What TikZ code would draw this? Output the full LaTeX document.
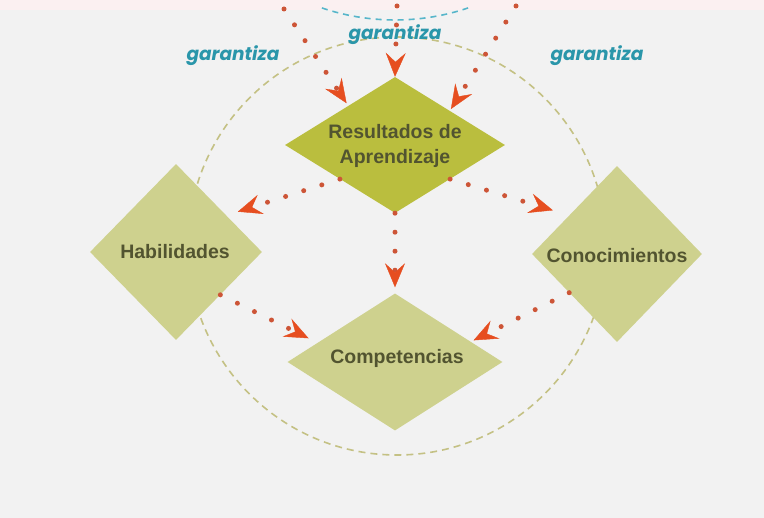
\documentclass[tikz,border=0pt]{standalone}
\usepackage{fontspec}
\setmainfont{Liberation Sans}
\newfontfamily\garfont{Poppins}
\usetikzlibrary{shapes.geometric,arrows.meta}
\definecolor{bgc}{RGB}{242,242,242}
\definecolor{topband}{RGB}{251,240,241}
\definecolor{resfill}{RGB}{186,190,62}
\definecolor{lightfill}{RGB}{206,209,142}
\definecolor{txtc}{RGB}{82,84,48}
\definecolor{garc}{RGB}{42,150,170}
\definecolor{arrc}{RGB}{230,78,32}
\definecolor{dotc}{RGB}{205,85,55}
\definecolor{circc}{RGB}{196,193,132}
\definecolor{tealc}{RGB}{85,182,202}
\begin{document}
\begin{tikzpicture}[x=1pt,y=-1pt,
  dia/.style={diamond, inner sep=0pt, draw=none, fill=lightfill},
  txt/.style={font=\fontsize{19.5}{25}\selectfont\bfseries, text=txtc, align=center, inner sep=0pt},
  gar/.style={font=\garfont\fontsize{18.5}{20}\selectfont\bfseries\itshape, text=garc, inner sep=0pt},
  dotarrow/.style={draw=dotc, line width=5pt, line cap=round, dash pattern=on 0pt off 19pt,
    -{Stealth[length=24pt,width=20pt,inset=9pt,line width=0.4pt,color=arrc,fill=arrc]}}
]
\useasboundingbox (0,0) rectangle (764,518);
\fill[bgc] (0,0) rectangle (764,518);
\fill[topband] (0,0) rectangle (764,10);

% circles
\draw[circc, line width=1.6pt, dash pattern=on 7pt off 5pt] (397,246) circle[radius=209];
\draw[tealc, line width=1.6pt, dash pattern=on 6pt off 5pt]
  (395,-208) ++(108.7:228) arc[start angle=108.7, end angle=71.3, radius=228];

% diamonds
\node[dia, fill=resfill, minimum width=220pt, minimum height=136pt] (res) at (395,145) {};
\node[dia, minimum width=172pt, minimum height=176pt] (hab) at (176,252) {};
\node[dia, minimum width=170pt, minimum height=176pt] (con) at (617,254) {};
\node[dia, minimum width=215pt, minimum height=137pt] (comp) at (395,362) {};

% texts
\node[txt] (restxt) at (395,146) {Resultados de\\Aprendizaje};
\node[txt] (habtxt) at (175,252) {Habilidades};
\node[txt] (contxt) at (617,256) {Conocimientos};
\node[txt] (comptxt) at (397,358) {Competencias};

\node[gar] (g1) at (233,56) {garantiza};
\node[gar] (g2) at (395,35) {garantiza};
\node[gar] (g3) at (597,56) {garantiza};

% connectors
\coordinate (tl) at (284,9);
\coordinate (tm) at (397,6);
\coordinate (tr) at (516,6);
\draw[dotarrow, shorten >=3pt] (tl) -- (res.140);
\draw[dotarrow] (tm) -- (res.north);
\draw[dotarrow, shorten >=2pt] (tr) -- (res.32);
\draw[dotarrow, shorten >=12pt] (res.south west) -- (hab.36);
\draw[dotarrow, shorten >=17pt] (res.south east) -- (con.141);
\draw[dotarrow, shorten >=6pt] (res.south) -- (comp.north);
\draw[dotarrow, shorten >=10pt] (hab.-44) -- (comp.166);
\draw[dotarrow, shorten >=3pt] (con.-141) -- (comp.15);
\end{tikzpicture}
\end{document}
